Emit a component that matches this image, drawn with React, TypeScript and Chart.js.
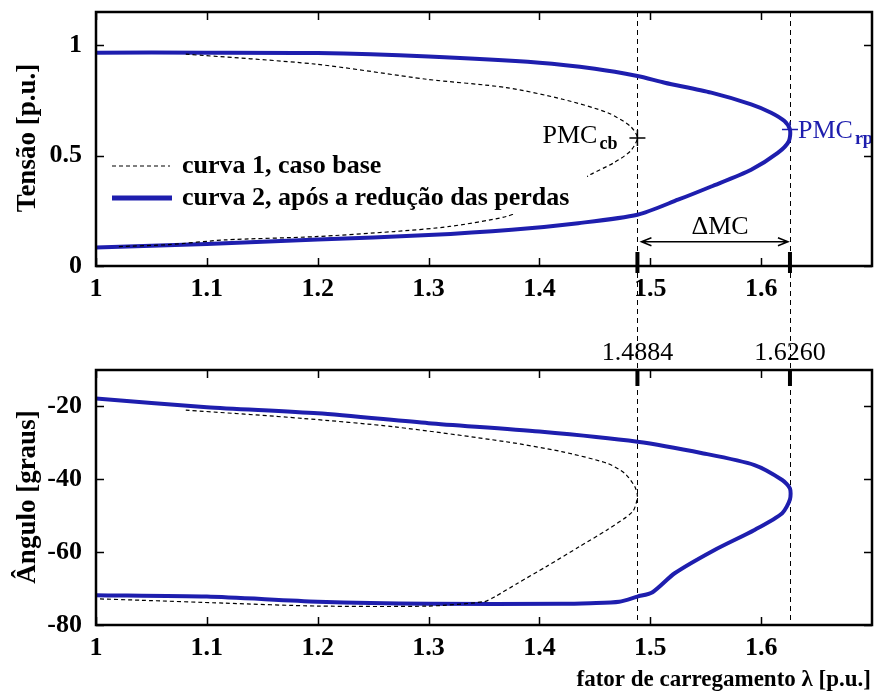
import React, { useEffect, useRef } from 'react';
import { Chart, registerables } from 'chart.js';

Chart.register(...registerables);

// ---------- data ----------
const xTickValues = [1, 1.1, 1.2, 1.3, 1.4, 1.5, 1.6];
const xMarkValues = [1.4884, 1.626];
const xMarkLabels = ['1.4884', '1.6260'];
const vTickValues = [0, 0.5, 1];
const angTickValues = [-80, -60, -40, -20];

// curve 1 (base case) – voltage
const baseLambdaV = [1.081, 1.198, 1.299, 1.37, 1.421, 1.4616, 1.482, 1.4884, 1.482, 1.467, 1.446, 1.42, 1.395, 1.37, 1.319, 1.269, 1.198, 1.116, 1.066, 1.02];
const baseV = [0.959, 0.914, 0.845, 0.808, 0.755, 0.694, 0.633, 0.58, 0.52, 0.467, 0.414, 0.34, 0.275, 0.224, 0.179, 0.156, 0.133, 0.118, 0.097, 0.088];
// curve 2 (after loss reduction) – voltage
const redLambdaV = [1.0, 1.1, 1.2, 1.3, 1.4, 1.45, 1.4884, 1.513, 1.555, 1.591, 1.609, 1.621, 1.626, 1.625, 1.615, 1.591, 1.555, 1.525, 1.4884, 1.435, 1.375, 1.3, 1.2, 1.1, 1.0];
const redV = [0.966, 0.966, 0.964, 0.948, 0.92, 0.893, 0.86, 0.83, 0.785, 0.732, 0.694, 0.656, 0.618, 0.565, 0.512, 0.436, 0.36, 0.3, 0.232, 0.194, 0.164, 0.14, 0.12, 0.1, 0.084];
// curve 1 – angle
const baseLambdaA = [1.081, 1.187, 1.269, 1.37, 1.42, 1.461, 1.477, 1.486, 1.4884, 1.484, 1.461, 1.436, 1.406, 1.38, 1.36, 1.35, 1.3, 1.2, 1.116, 1.04, 1.0];
const baseAng = [-21.0, -23.3, -25.6, -29.7, -32.4, -35.6, -38.4, -42.0, -44.8, -48.9, -53.9, -58.5, -64.0, -68.6, -72.2, -73.6, -74.8, -74.8, -74.0, -73.2, -72.8];
// curve 2 – angle
const redLambdaA = [1.0, 1.1, 1.2, 1.3, 1.4, 1.4884, 1.548, 1.594, 1.619, 1.626, 1.626, 1.619, 1.594, 1.558, 1.522, 1.502, 1.4884, 1.472, 1.446, 1.42, 1.3, 1.2, 1.1, 1.0];
const redAng = [-17.8, -20.2, -21.9, -24.6, -26.9, -29.7, -32.9, -36.1, -40.2, -42.5, -45.5, -49.3, -53.9, -59.4, -65.8, -71.0, -72.2, -73.6, -74.0, -74.2, -74.2, -73.6, -72.2, -71.8];

// maximum loading points
const pmcLambda = [1.4884, 1.626];
const pmcV = [0.58, 0.618];

const legendLabels = ['curva 1, caso base', 'curva 2, após a redução das perdas'];
const yTitleTop = 'Tensão [p.u.]';
const yTitleBottom = 'Ângulo [graus]';
const xTitle = 'fator de carregamento λ [p.u.]';

// ---------- styles ----------
const SERIF = '"Liberation Serif", "Times New Roman", serif';
const BLUE = '#1e1eae';
const TICK = 8;
const SPLIT = 318; // canvas split (page y)

function pts(xs: number[], ys: number[]) {
  return xs.map((x, i) => ({ x, y: ys[i] }));
}

function fixedTicks(values: number[]) {
  return (scale: any) => {
    scale.ticks = values.map((v) => ({ value: v }));
  };
}

function drawFrame(chart: any, xVals: number[], yVals: number[]) {
  const { ctx, chartArea: a } = chart;
  const xs = chart.scales.x;
  const ys = chart.scales.y;
  ctx.save();
  ctx.strokeStyle = '#000';
  ctx.lineWidth = 1.5;
  ctx.beginPath();
  for (const v of xVals) {
    const p = Math.round(xs.getPixelForValue(v)) + 0.5;
    ctx.moveTo(p, a.bottom);
    ctx.lineTo(p, a.bottom - TICK);
    ctx.moveTo(p, a.top);
    ctx.lineTo(p, a.top + TICK);
  }
  for (const v of yVals) {
    const p = Math.round(ys.getPixelForValue(v)) + 0.5;
    ctx.moveTo(a.left, p);
    ctx.lineTo(a.left + TICK, p);
    ctx.moveTo(a.right, p);
    ctx.lineTo(a.right - TICK, p);
  }
  ctx.stroke();
  ctx.lineWidth = 2.5;
  ctx.strokeRect(a.left, a.top, a.right - a.left, a.bottom - a.top);
  ctx.restore();
}

function drawMarkLines(chart: any, y0: number, y1: number) {
  const { ctx } = chart;
  const xs = chart.scales.x;
  ctx.save();
  ctx.strokeStyle = '#000';
  ctx.lineWidth = 1;
  ctx.setLineDash([5, 4]);
  ctx.beginPath();
  for (const v of xMarkValues) {
    const p = Math.round(xs.getPixelForValue(v)) + 0.5;
    ctx.moveTo(p, y0);
    ctx.lineTo(p, y1);
  }
  ctx.stroke();
  ctx.restore();
}

function drawThickMarks(chart: any, y0: number, y1: number) {
  const { ctx } = chart;
  const xs = chart.scales.x;
  ctx.save();
  ctx.strokeStyle = '#000';
  ctx.lineWidth = 4;
  ctx.beginPath();
  for (const v of xMarkValues) {
    const p = xs.getPixelForValue(v);
    ctx.moveTo(p, y0);
    ctx.lineTo(p, y1);
  }
  ctx.stroke();
  ctx.restore();
}

function drawYTitle(chart: any, text: string, cx: number, cy: number) {
  const { ctx } = chart;
  ctx.save();
  ctx.translate(cx, cy);
  ctx.rotate(-Math.PI / 2);
  ctx.font = `bold 27px ${SERIF}`;
  ctx.fillStyle = '#000';
  ctx.textAlign = 'center';
  ctx.textBaseline = 'middle';
  ctx.fillText(text, 0, 0);
  ctx.restore();
}

const topDecor = {
  id: 'topDecor',
  beforeDatasetsDraw(chart: any) {
    drawMarkLines(chart, chart.chartArea.top, chart.height);
  },
  afterDatasetsDraw(chart: any) {
    const { ctx, chartArea: a } = chart;
    const xs = chart.scales.x;
    const ys = chart.scales.y;
    ctx.save();
    // legend
    const lx = a.left + 6;
    const ly = 150;
    ctx.fillStyle = '#fff';
    ctx.fillRect(lx, ly, 485, 64);
    ctx.strokeStyle = '#000';
    ctx.lineWidth = 1.2;
    ctx.setLineDash([4, 3]);
    ctx.beginPath();
    ctx.moveTo(lx + 10, ly + 16);
    ctx.lineTo(lx + 68, ly + 16);
    ctx.stroke();
    ctx.setLineDash([]);
    ctx.strokeStyle = BLUE;
    ctx.lineWidth = 5;
    ctx.beginPath();
    ctx.moveTo(lx + 10, ly + 48);
    ctx.lineTo(lx + 70, ly + 48);
    ctx.stroke();
    ctx.fillStyle = '#000';
    ctx.font = `bold 26px ${SERIF}`;
    ctx.textAlign = 'left';
    ctx.textBaseline = 'middle';
    ctx.fillText(legendLabels[0], lx + 80, ly + 16);
    ctx.fillText(legendLabels[1], lx + 80, ly + 48);

    // delta MC arrow
    const x1 = xs.getPixelForValue(xMarkValues[0]) + 4;
    const x2 = xs.getPixelForValue(xMarkValues[1]) - 2;
    const ay = ys.getPixelForValue(0.11);
    ctx.strokeStyle = '#000';
    ctx.lineWidth = 1.5;
    ctx.beginPath();
    ctx.moveTo(x1, ay);
    ctx.lineTo(x2, ay);
    ctx.moveTo(x1 + 10, ay - 4);
    ctx.lineTo(x1, ay);
    ctx.lineTo(x1 + 10, ay + 4);
    ctx.moveTo(x2 - 10, ay - 4);
    ctx.lineTo(x2, ay);
    ctx.lineTo(x2 - 10, ay + 4);
    ctx.stroke();
    ctx.font = `26px ${SERIF}`;
    ctx.textAlign = 'center';
    ctx.textBaseline = 'alphabetic';
    ctx.fillText('ΔMC', xs.getPixelForValue(1.563), ay - 8);

    // PMC_cb label
    const cbx = xs.getPixelForValue(pmcLambda[0]);
    const cby = ys.getPixelForValue(pmcV[0]);
    ctx.font = `bold 18px ${SERIF}`;
    const subW = ctx.measureText('cb').width;
    ctx.textAlign = 'right';
    ctx.fillText('cb', cbx - 20, cby + 11);
    ctx.font = `26px ${SERIF}`;
    ctx.fillText('PMC', cbx - 22 - subW, cby + 5);

    // PMC_rp label
    const rpx = xs.getPixelForValue(pmcLambda[1]);
    const rpy = ys.getPixelForValue(pmcV[1]);
    ctx.fillStyle = BLUE;
    ctx.textAlign = 'left';
    ctx.font = `26px ${SERIF}`;
    ctx.fillText('PMC', rpx + 8, rpy + 8);
    const w = ctx.measureText('PMC').width;
    ctx.font = `bold 18px ${SERIF}`;
    ctx.fillText('rp', rpx + 10 + w, rpy + 14);
    ctx.restore();
  },
  afterDraw(chart: any) {
    const a = chart.chartArea;
    drawFrame(chart, xTickValues, vTickValues);
    drawThickMarks(chart, a.bottom + 7, a.bottom - 14);
    drawYTitle(chart, yTitleTop, 28, 138);
  },
};

const bottomDecor = {
  id: 'bottomDecor',
  beforeDatasetsDraw(chart: any) {
    drawMarkLines(chart, 0, chart.chartArea.bottom);
  },
  afterDraw(chart: any) {
    const { ctx, chartArea: a } = chart;
    drawFrame(chart, xTickValues, angTickValues);
    drawThickMarks(chart, a.top - 1, a.top + 16);
    drawYTitle(chart, yTitleBottom, 28, 497 - SPLIT);
    ctx.save();
    ctx.font = `bold 23px ${SERIF}`;
    ctx.fillStyle = '#000';
    ctx.textAlign = 'right';
    ctx.textBaseline = 'middle';
    ctx.fillText(xTitle, 871, 680 - SPLIT);
    ctx.restore();
  },
};

const tickFont = { family: SERIF, size: 26, weight: 'bold' as const };
const markFont = { family: SERIF, size: 26, weight: 'normal' as const };

function xScale(height: number) {
  return {
    type: 'linear' as const,
    min: 1,
    max: 1.7,
    afterBuildTicks: fixedTicks(xTickValues),
    afterFit: (s: any) => {
      s.height = height;
      s.paddingLeft = 0;
      s.paddingRight = 0;
    },
    grid: { display: false },
    border: { display: false },
    ticks: {
      font: tickFont,
      color: '#000',
      padding: 0,
      autoSkip: false,
      maxRotation: 0,
      callback: (v: any) => String(Number(v)),
    },
  };
}

function yScale(min: number, max: number, values: number[]) {
  return {
    type: 'linear' as const,
    min,
    max,
    afterBuildTicks: fixedTicks(values),
    afterFit: (s: any) => {
      s.width = 96;
      s.paddingTop = 0;
      s.paddingBottom = 0;
    },
    grid: { display: false },
    border: { display: false },
    ticks: {
      font: tickFont,
      color: '#000',
      padding: 6,
      autoSkip: false,
      callback: (v: any) => String(Number(v)),
    },
  };
}

const baseStyle = {
  showLine: true,
  borderColor: '#000',
  borderWidth: 1.2,
  borderDash: [4, 3],
  pointRadius: 0,
  tension: 0.25,
  fill: false,
};
const redStyle = {
  showLine: true,
  borderColor: BLUE,
  borderWidth: 4,
  pointRadius: 0,
  tension: 0.25,
  fill: false,
};

export default function App() {
  const topRef = useRef<HTMLCanvasElement>(null);
  const botRef = useRef<HTMLCanvasElement>(null);

  useEffect(() => {
    document.body.style.margin = '0';
    const c1 = new Chart(topRef.current as HTMLCanvasElement, {
      type: 'scatter',
      data: {
        datasets: [
          { ...baseStyle, data: pts(baseLambdaV, baseV) },
          { ...redStyle, data: pts(redLambdaV, redV) },
          {
            showLine: false,
            data: [{ x: pmcLambda[0], y: pmcV[0] }],
            pointStyle: 'cross',
            pointRadius: 8,
            pointBorderWidth: 1.5,
            borderColor: '#000',
            pointBorderColor: '#000',
          },
          {
            showLine: false,
            data: [{ x: pmcLambda[1], y: pmcV[1] }],
            pointStyle: 'cross',
            pointRadius: 8,
            pointBorderWidth: 1.5,
            borderColor: BLUE,
            pointBorderColor: BLUE,
          },
        ] as any,
      },
      options: {
        animation: false,
        responsive: false,
        events: [],
        layout: { padding: { top: 12, right: 10, left: 0, bottom: 0 } },
        plugins: { legend: { display: false }, tooltip: { enabled: false } },
        scales: {
          x: xScale(SPLIT - 266),
          y: yScale(0, 1.15, vTickValues),
        },
      } as any,
      plugins: [topDecor],
    });

    const c2 = new Chart(botRef.current as HTMLCanvasElement, {
      type: 'scatter',
      data: {
        datasets: [
          { ...baseStyle, data: pts(baseLambdaA, baseAng) },
          { ...redStyle, data: pts(redLambdaA, redAng) },
        ] as any,
      },
      options: {
        animation: false,
        responsive: false,
        events: [],
        layout: { padding: { top: 0, right: 10, left: 0, bottom: 0 } },
        plugins: { legend: { display: false }, tooltip: { enabled: false } },
        scales: {
          x: xScale(697 - 625),
          x2: {
            type: 'linear',
            position: 'top',
            min: 1,
            max: 1.7,
            afterBuildTicks: fixedTicks(xMarkValues),
            afterFit: (s: any) => {
              s.height = 370 - SPLIT;
              s.paddingLeft = 0;
              s.paddingRight = 0;
            },
            grid: { display: false },
            border: { display: false },
            ticks: {
              font: markFont,
              color: '#000',
              padding: -7,
              autoSkip: false,
              maxRotation: 0,
              callback: (_v: any, i: number) => xMarkLabels[i],
            },
          },
          y: yScale(-80, -10, angTickValues),
        },
      } as any,
      plugins: [bottomDecor],
    });

    return () => {
      c1.destroy();
      c2.destroy();
    };
  }, []);

  return (
    <div style={{ position: 'fixed', left: 0, top: 0, width: 882, height: 697, background: '#fff' }}>
      <canvas ref={topRef} width={882} height={SPLIT} style={{ position: 'absolute', left: 0, top: 0, display: 'block' }} />
      <canvas ref={botRef} width={882} height={697 - SPLIT} style={{ position: 'absolute', left: 0, top: SPLIT, display: 'block' }} />
    </div>
  );
}
